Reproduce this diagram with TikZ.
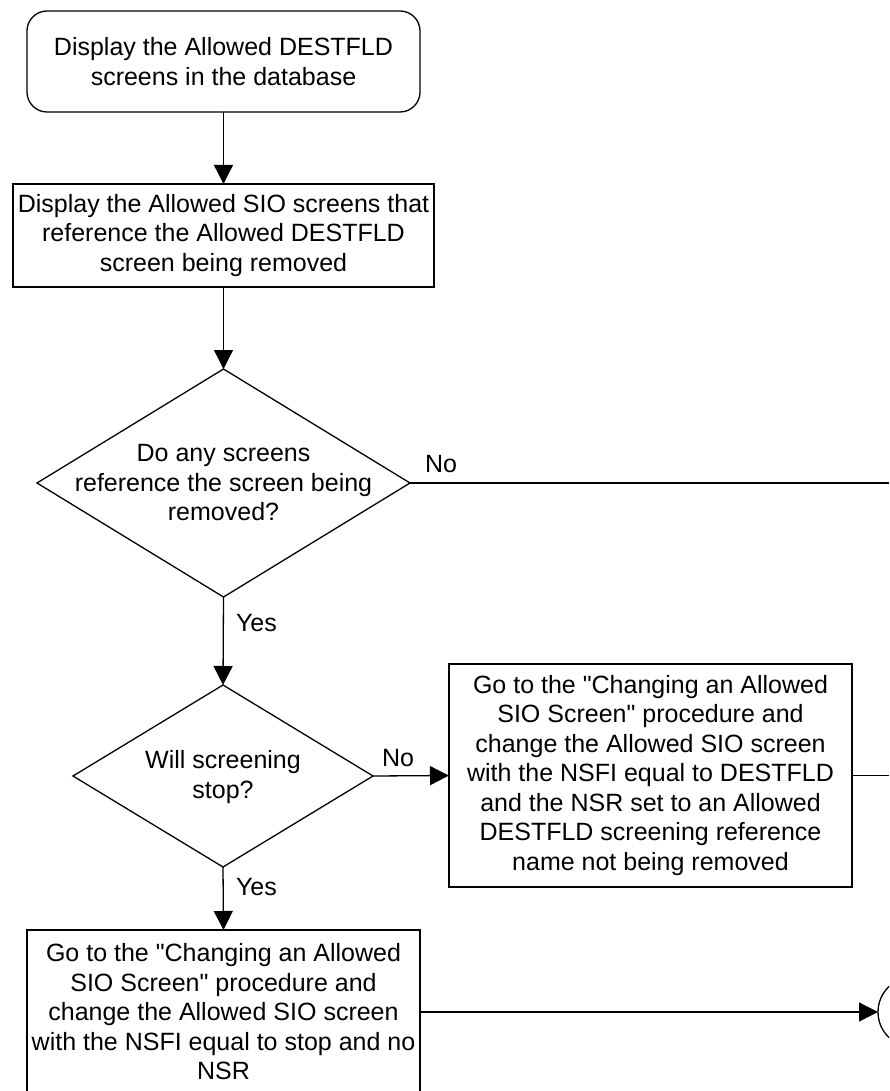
\documentclass[tikz,border=0pt]{standalone}
\usepackage{fontspec}
\setmainfont{Liberation Sans}
\usetikzlibrary{arrows.meta,shapes.geometric}
\begin{document}
\begin{tikzpicture}[x=1pt,y=-1pt,
  every node/.style={outer sep=0pt},
  txt/.style={font=\fontsize{25}{29.5}\selectfont, align=center, inner sep=0pt},
  proc/.style={draw, line width=1.3pt, txt},
  dia/.style={draw, line width=1.3pt, diamond, inner sep=0pt},
  lbl/.style={font=\fontsize{25}{29.5}\selectfont, inner sep=0pt, anchor=base west},
  conn/.style={line width=1.3pt},
  arr/.style={conn, -{Triangle[length=19pt,width=19pt]}}]
\useasboundingbox (0,0) rectangle (889,1091);
\clip (0,0) rectangle (889,1091);
% nodes
\node[proc, rounded corners=20pt, minimum width=393pt, minimum height=101pt] (start) at (223.5,61.5)
  {Display the Allowed DESTFLD\\screens in the database};
\node[proc, minimum width=421pt, minimum height=103pt] (disp) at (223.5,235.5)
  {Display the Allowed SIO screens that\\reference the Allowed DESTFLD\\screen being removed};
\node[dia, minimum width=373pt, minimum height=228pt] (d1) at (223.5,483) {};
\node[txt] (d1t) at (223.5,483) {Do any screens\\reference the screen being\\removed?};
\node[dia, minimum width=300pt, minimum height=182pt] (d2) at (223,776) {};
\node[txt] (d2t) at (223,777) {Will screening\\stop?};
\node[proc, minimum width=403pt, minimum height=223pt] (chg) at (650.5,775.5)
  {Go to the \textquotedbl Changing an Allowed\\SIO Screen\textquotedbl{} procedure and\\change the Allowed SIO screen\\with the NSFI equal to DESTFLD\\and the NSR set to an Allowed\\DESTFLD screening reference\\name not being removed};
\node[proc, minimum width=393pt, minimum height=164pt] (stp) at (223.5,1012)
  {Go to the \textquotedbl Changing an Allowed\\SIO Screen\textquotedbl{} procedure and\\change the Allowed SIO screen\\with the NSFI equal to stop and no\\NSR};
\node[draw, circle, line width=1.3pt, minimum size=70pt, inner sep=0pt] (conA) at (913,1012) {};
\coordinate (offA) at (889,483);
\coordinate (offB) at (889,775.5);
% connectors
\draw[arr] (start.south) -- (disp.north);
\draw[arr] (disp.south) -- (d1.north);
\draw[conn] (d1.east) -- (offA);
\draw[arr] (d1.south) -- (d2.north);
\draw[arr] (d2.east) -- (chg.west);
\draw[conn] (chg.east) -- (offB);
\draw[arr] (d2.south) -- (stp.north);
\draw[arr] (stp.east) -- (conA.west);
% labels
\node[lbl] (no1) at (425,472) {No};
\node[lbl] (yes1) at (236,631) {Yes};
\node[lbl] (no2) at (382,766) {No};
\node[lbl] (yes2) at (236,895) {Yes};
\end{tikzpicture}
\end{document}
